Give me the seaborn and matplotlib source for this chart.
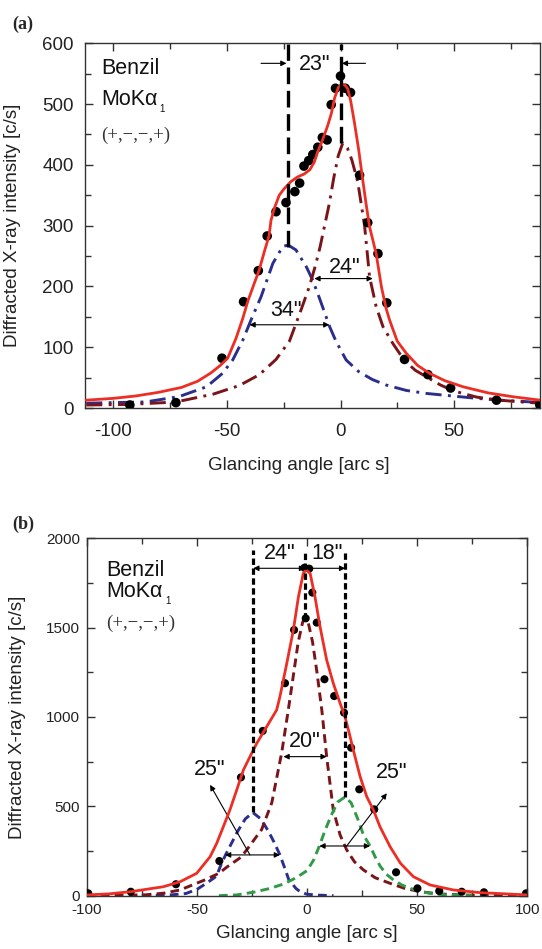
import numpy as np
import pandas as pd
import seaborn as sns
import matplotlib.pyplot as plt
from matplotlib.ticker import MultipleLocator

# ---------------- panel (a) ----------------
a_pts_x = [-92.8, -72.5, -52.2, -42.7, -36.2, -32.3, -28.4, -24.0, -20.1, -18.0, -16.1, -14.0,
           -12.2, -10.0, -8.0, -5.9, -4.1, -2.2, 0.0, 2.1, 4.4, 8.4, 12.0, 16.5, 20.4, 28.2,
           38.5, 48.5, 68.7, 87.8]
a_pts_y = [5, 9, 82, 175, 226, 283, 323, 338, 356, 370, 398, 407,
           417, 429, 445, 441, 499, 526, 546, 526, 519, 383, 305, 254, 173, 80,
           55, 33, 13, 5]

a_fit_x = [-112, -100, -90, -80, -70, -63, -57, -53, -49.7, -46, -43, -40.9, -38, -35.9, -33.5,
           -31.5, -30.6, -29, -27, -25, -22, -19, -16, -13.5, -11.5, -10, -8, -5.6, -4, -2.6,
           -1, 0.5, 2, 3.2, 4.5, 6.2, 8, 9.8, 11.3, 12.8, 14, 15.7, 18, 20, 21.6, 25, 29, 34,
           39.3, 46, 54, 65, 76, 88]
a_fit_y = [13, 16, 20, 26, 34, 44, 58, 70, 82, 115, 148, 175, 205, 226, 258,
           283, 309, 330, 350, 360, 372, 380, 385, 392, 405, 422, 440, 465, 485, 510,
           527, 533, 531, 525, 505, 468, 425, 375, 335, 298, 280, 254, 200, 165, 145, 110, 90, 70,
           57, 45, 35, 25, 18.6, 13]

a_blue_x = [-112, -100, -86, -71, -59, -52, -47.5, -43, -39.4, -35, -29.8, -25.4, -23, -19.6, -15,
            -12.2, -9, -4.8, -2, 2.5, 8, 14, 20, 29, 38, 49, 60, 70, 80, 88]
a_blue_y = [8, 9, 10, 19, 35, 57, 79, 112, 145, 183, 238, 266, 268, 260, 232,
            210, 178, 134, 110, 79, 60, 47, 38, 29, 24, 20, 16, 13, 11, 9]

a_dred_x = [-112, -93, -72.5, -56, -44.6, -35.7, -28.4, -22.5, -18, -13.7, -11, -9, -7, -5, -3,
            -1, 1, 3, 5, 7.6, 10.6, 12.8, 15.7, 18.7, 23.1, 28.2, 33, 38.5, 44, 50, 60, 70, 80, 88]
a_dred_y = [5, 6, 10, 23, 37, 55, 80, 110, 155, 200, 235, 265, 300, 335, 378,
            415, 436, 428, 408, 372, 300, 216, 167, 134, 106, 78, 62, 50, 38, 28, 18, 13, 10, 8]

# ---------------- panel (b) ----------------
b_pts_x = [-99.3, -80, -59.5, -39.8, -30, -20.1, -10, -5.9, -1.2, 1.0, -0.6, 2.4, 4.4, 7.9,
           12.3, 16.8, 20, 23.7, 30.5, 40.4, 50.1, 60, 70.2, 80.3, 99.4]
b_pts_y = [13, 22, 64, 194, 662, 922, 1189, 1487, 1835, 1830, 1552, 1696, 1528, 1211,
           1117, 1024, 828, 595, 483, 131, 41, 26, 22, 19, 13]

b_fit_x = [-100, -90, -80.2, -65.2, -57.6, -50.1, -44, -41, -38, -35, -31.9, -28.9, -25.9, -22.8,
           -18.3, -13.8, -12.3, -9.2, -6.2, -3.9, -1.7, -0.5, 1.4, 3.6, 5.9, 8.9, 11.9, 15, 17.2,
           18.8, 21, 24.1, 27.1, 30.1, 33.1, 37.7, 42.4, 48.3, 55.8, 66.4, 78.5, 93.6, 100]
b_fit_y = [4, 10, 22, 50, 78, 125, 218, 293, 386, 480, 592, 703, 778, 853,
           946, 1039, 1114, 1300, 1487, 1673, 1804, 1823, 1804, 1673, 1505, 1319, 1189, 1077, 1002,
           927, 815, 666, 554, 480, 386, 274, 181, 106, 60, 32, 17, 8, 4]

b_blue_x = [-75, -62, -55, -50, -45, -41, -39.5, -37, -34, -31.5, -28, -24.6, -21, -17.5, -15,
            -12.3, -10, -8.3, -5, -2.9, 0, 5, 12]
b_blue_y = [0, 4, 12, 35, 75, 110, 160, 228, 300, 360, 430, 465, 430, 360, 300,
            228, 150, 90, 40, 20, 8, 3, 0]

b_dred_x = [-100, -85, -73, -65, -57.6, -47, -40, -36.4, -30, -27.4, -23, -20.6, -16, -11.5, -8.5,
            -6, -4, -2, -1, 0.5, 2.5, 4.5, 6.7, 8.9, 11.9, 15, 18, 21.5, 25.6, 31, 37.7, 44,
            51.3, 60, 70, 85, 100]
b_dred_y = [0, 2, 5, 14, 32, 85, 125, 160, 215, 256, 330, 370, 520, 800, 1040,
            1250, 1420, 1530, 1550, 1530, 1420, 1250, 1039, 778, 480, 340, 256, 190, 144, 100, 69, 42,
            22, 10, 4, 1, 0]

b_green_x = [-40, -32, -24, -17, -10.7, -5, 0, 3, 5.6, 8, 11, 14, 17.2, 20, 23, 25.6, 28.6, 31,
             33.2, 36, 39.2, 43, 46.8, 51, 55.8, 63.4, 75]
b_green_y = [0, 4, 20, 40, 65, 100, 140, 200, 278, 360, 450, 525, 552, 520, 430, 340, 278, 215,
             165, 120, 88, 60, 41, 25, 13, 4, 0]

RED = '#ec2e24'
NAVY = '#2b2e8c'
DRED = '#7a1418'
GREEN = '#2f9a48'

sns.set_theme(style='ticks')
plt.rcParams['font.family'] = ['Liberation Sans', 'DejaVu Sans']
plt.rcParams['axes.unicode_minus'] = False
plt.rcParams['axes.edgecolor'] = '#333333'
plt.rcParams['axes.linewidth'] = 1.0

fig = plt.figure(figsize=(5.42, 9.49), dpi=100)
ax1 = fig.add_axes([0.157, 0.570, 0.839, 0.3844])
ax2 = fig.add_axes([0.160, 0.0562, 0.813, 0.3766])

arr2 = dict(arrowstyle='<|-|>', color='black', lw=0.8, mutation_scale=8, shrinkA=0, shrinkB=0)
arr1 = dict(arrowstyle='-|>', color='black', lw=0.8, mutation_scale=8, shrinkA=0, shrinkB=0)
dashdot = (0, (5.5, 2.2, 1, 2.2))

# ---- panel (a) ----
sns.lineplot(x=a_blue_x, y=a_blue_y, ax=ax1, color=NAVY, lw=2.1, linestyle=dashdot, estimator=None, zorder=2)
sns.lineplot(x=a_dred_x, y=a_dred_y, ax=ax1, color=DRED, lw=2.1, linestyle=dashdot, estimator=None, zorder=2)
sns.scatterplot(x=a_pts_x, y=a_pts_y, ax=ax1, color='black', s=48, edgecolor='none', zorder=3)
sns.lineplot(x=a_fit_x, y=a_fit_y, ax=ax1, color=RED, lw=2.0, estimator=None, zorder=4)

ax1.plot([-23.2, -23.2], [265, 598], color='black', lw=2.4, linestyle=(0, (5, 2)), zorder=5)
ax1.plot([0, 0], [436, 598], color='black', lw=2.4, linestyle=(0, (5, 2)), zorder=5)
ax1.annotate('', xy=(-23.8, 567), xytext=(-35, 567), arrowprops=arr1)
ax1.annotate('', xy=(0.6, 567), xytext=(11, 567), arrowprops=arr1)
ax1.text(-11.5, 565, '23"', ha='center', va='center', fontsize=15.5, color='#111111')
ax1.annotate('', xy=(-11.5, 213), xytext=(14.2, 213), arrowprops=arr2)
ax1.text(1.8, 232, '24"', ha='center', va='center', fontsize=15.5, color='#111111')
ax1.annotate('', xy=(-40.1, 137), xytext=(-4.9, 137), arrowprops=arr2)
ax1.text(-24, 161, '34"', ha='center', va='center', fontsize=15.5, color='#111111')

ax1.text(-105.5, 559, 'Benzil', fontsize=15.5, va='center', ha='left', color='#111111')
t1 = ax1.text(-105.5, 508, 'MoKα', fontsize=15.5, va='center', ha='left', color='#111111')
ax1.annotate('1', xy=(1, 0), xycoords=t1, xytext=(1.5, -3), textcoords='offset points',
             fontsize=7, va='bottom', ha='left', color='#111111')
ax1.text(-105.5, 449, '(+,−,−,+)', fontsize=13.5, va='center', ha='left',
         family=['Liberation Serif', 'DejaVu Serif'], color='#333333')

ax1.set_xlim(-112.5, 87.8)
ax1.set_ylim(0, 600)
ax1.xaxis.set_major_locator(MultipleLocator(50))
ax1.xaxis.set_minor_locator(MultipleLocator(25))
ax1.yaxis.set_major_locator(MultipleLocator(100))
ax1.yaxis.set_minor_locator(MultipleLocator(50))
ax1.tick_params(which='both', direction='in', top=True, right=True, colors='#333333',
                labelcolor='#222222', labelsize=13.5)
ax1.tick_params(which='major', length=6, width=1)
ax1.tick_params(which='minor', length=4, width=1)
ax1.tick_params(axis='x', pad=11)
ax1.tick_params(axis='y', pad=8)
ax1.set_xlabel('Glancing angle [arc s]', fontsize=13.5, color='#222222')
ax1.set_ylabel('Diffracted X-ray intensity [c/s]', fontsize=13.5, color='#222222')
ax1.xaxis.set_label_coords(0.47, -0.133)
ax1.yaxis.set_label_coords(-0.14, 0.5)

# ---- panel (b) ----
dash = (0, (3, 1.8))
dot = (0, (2, 1.1))
sns.lineplot(x=b_blue_x, y=b_blue_y, ax=ax2, color=NAVY, lw=2.1, linestyle=dash, estimator=None, zorder=2)
sns.lineplot(x=b_dred_x, y=b_dred_y, ax=ax2, color=DRED, lw=2.1, linestyle=dash, estimator=None, zorder=2)
sns.lineplot(x=b_green_x, y=b_green_y, ax=ax2, color=GREEN, lw=2.1, linestyle=dash, estimator=None, zorder=2)
sns.scatterplot(x=b_pts_x, y=b_pts_y, ax=ax2, color='black', s=34, edgecolor='none', zorder=3)
sns.lineplot(x=b_fit_x, y=b_fit_y, ax=ax2, color=RED, lw=2.0, estimator=None, zorder=4)

ax2.plot([-24.4, -24.4], [470, 1935], color='black', lw=2.3, linestyle=dot, zorder=5)
ax2.plot([-0.9, -0.9], [1550, 1935], color='black', lw=2.3, linestyle=dot, zorder=5)
ax2.plot([17.3, 17.3], [550, 1935], color='black', lw=2.3, linestyle=dot, zorder=5)
ax2.annotate('', xy=(-24.4, 1832), xytext=(-0.9, 1832), arrowprops=arr2)
ax2.annotate('', xy=(-0.9, 1832), xytext=(17.3, 1832), arrowprops=arr2)
ax2.text(-12.3, 1916, '24"', ha='center', va='center', fontsize=15.5, color='#111111')
ax2.text(8.9, 1916, '18"', ha='center', va='center', fontsize=15.5, color='#111111')
ax2.annotate('', xy=(-10.7, 778), xytext=(8.9, 778), arrowprops=arr2)
ax2.text(-0.9, 865, '20"', ha='center', va='center', fontsize=15.5, color='#111111')
ax2.annotate('', xy=(-37.2, 228), xytext=(-12.3, 228), arrowprops=arr2)
ax2.annotate('', xy=(-44, 620), xytext=(-25.9, 228), arrowprops=arr1)
ax2.text(-44, 705, '25"', ha='center', va='center', fontsize=15.5, color='#111111')
ax2.annotate('', xy=(5.6, 278), xytext=(28.6, 278), arrowprops=arr2)
ax2.annotate('', xy=(36.2, 573), xytext=(18, 278), arrowprops=arr1)
ax2.text(38.4, 688, '25"', ha='center', va='center', fontsize=15.5, color='#111111')

ax2.text(-91, 1822, 'Benzil', fontsize=15.5, va='center', ha='left', color='#111111')
t2 = ax2.text(-91, 1701, 'MoKα', fontsize=15.5, va='center', ha='left', color='#111111')
ax2.annotate('1', xy=(1, 0), xycoords=t2, xytext=(1.5, -3), textcoords='offset points',
             fontsize=7, va='bottom', ha='left', color='#111111')
ax2.text(-91, 1524, '(+,−,−,+)', fontsize=13.5, va='center', ha='left',
         family=['Liberation Serif', 'DejaVu Serif'], color='#333333')

ax2.set_xlim(-100, 100)
ax2.set_ylim(0, 2000)
ax2.xaxis.set_major_locator(MultipleLocator(50))
ax2.xaxis.set_minor_locator(MultipleLocator(25))
ax2.yaxis.set_major_locator(MultipleLocator(500))
ax2.yaxis.set_minor_locator(MultipleLocator(250))
ax2.tick_params(which='both', direction='in', top=True, right=True, colors='#333333',
                labelcolor='#222222', labelsize=11)
ax2.tick_params(which='major', length=6, width=1)
ax2.tick_params(which='minor', length=4, width=1)
ax2.tick_params(axis='x', pad=5)
ax2.tick_params(axis='y', pad=5)
ax2.set_xlabel('Glancing angle [arc s]', fontsize=13.5, color='#222222')
ax2.set_ylabel('Diffracted X-ray intensity [c/s]', fontsize=13.5, color='#222222')
ax2.xaxis.set_label_coords(0.5, -0.083)
ax2.yaxis.set_label_coords(-0.138, 0.5)

fig.text(0.022, 0.974, '(a)', fontsize=13, fontweight='bold', va='center', ha='left',
         family=['Liberation Serif', 'DejaVu Serif'])
fig.text(0.022, 0.447, '(b)', fontsize=13, fontweight='bold', va='center', ha='left',
         family=['Liberation Serif', 'DejaVu Serif'])

fig.savefig('out.png', dpi=100)
